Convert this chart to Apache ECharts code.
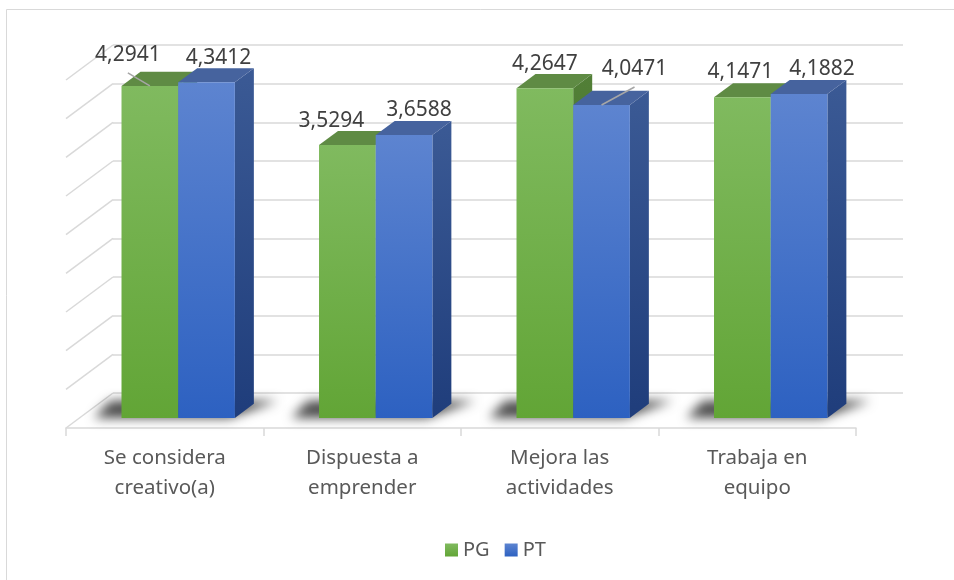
<!DOCTYPE html>
<html>
<head>
<meta charset="utf-8">
<script src="https://cdn.jsdelivr.net/npm/echarts@6/dist/echarts.min.js"></script>
<style>
html, body { margin: 0; padding: 0; background: #fff; }
#chart { width: 954px; height: 580px; }
</style>
</head>
<body>
<div id="chart"></div>
<script>
var categories = ['Se considera\ncreativo(a)', 'Dispuesta a\nemprender', 'Mejora las\nactividades', 'Trabaja en\nequipo'];
var pgValues = [4.2941, 3.5294, 4.2647, 4.1471];
var ptValues = [4.3412, 3.6588, 4.0471, 4.1882];
var seriesNames = ['PG', 'PT'];
var yMax = 4.5;
var yStep = 0.5;

// 3D box: front plane of the floor, and the vector from front to back wall
var front = { left: 66, top: 80, width: 790, height: 348 };
var depth = { x: 47, y: -35 };
var barFrac = 0.287;            // bar width / category width
var d0 = 0.286, d1 = 0.69;      // depth of bar front / back face

var font = 'Noto Sans';
var palette = [
  { front: ['#80ba5f', '#62a536'], top: '#5f8b44', side: ['#527f37', '#3f6a26'] },
  { front: ['#5d84d0', '#2d61c1'], top: '#46639e', side: ['#3b5a95', '#1f3d7b'] }
];
// label offsets from the front-top middle of each bar (x, baseline y), lead = leader line
var labelNudge = [
  [{ x: -22, y: -23, lead: true }, { x: -16, y: -17 }, { x: 0, y: -17 }, { x: -2, y: -18 }],
  [{ x: 12, y: -17 }, { x: 15, y: -18 }, { x: 33, y: -28, lead: true }, { x: 23, y: -18 }]
];

function fmt(v) { return v.toFixed(4).replace('.', ','); }
function grad(c) {
  return new echarts.graphic.LinearGradient(0, 0, 0, 1, [
    { offset: 0, color: c[0] }, { offset: 1, color: c[1] }
  ]);
}

var gridLevels = [];
for (var t = 0; t <= yMax + 1e-9; t += yStep) gridLevels.push([0, +t.toFixed(2)]);

function wallRender(params, api) {
  var p = api.coord([0, api.value(1)]);
  var catW = api.size([1, 0])[0];
  var x = p[0] - catW / 2;
  return {
    type: 'line',
    shape: { x1: x, y1: p[1], x2: x + depth.x, y2: p[1] + depth.y },
    style: { stroke: '#d9d9d9', lineWidth: 1.5 }
  };
}

function shadowRender(params, api) {
  var i = params.dataIndex;
  var base = api.coord([i, 0]);
  var catW = api.size([1, 0])[0];
  var w = catW * barFrac;
  var xl = base[0] - w, xr = base[0] + w;
  var yF = base[1] + depth.y * d0, yB = base[1] + depth.y * d1;
  var ox = 3000;
  return {
    type: 'polygon',
    shape: { points: [
      [xl - 14 - ox, yF], [xr + 8 - ox, yF],
      [xr + depth.x * d1 + 24 - ox, yB - 3], [xl + depth.x * d1 - 30 - ox, yB - 3]
    ] },
    style: { fill: '#000', shadowBlur: 11, shadowColor: 'rgba(0,0,0,0.7)', shadowOffsetX: ox }
  };
}

function barRender(s) {
  return function (params, api) {
    var i = params.dataIndex;
    var v = api.value(1);
    var base = api.coord([i, 0]);
    var top = api.coord([i, v]);
    var catW = api.size([1, 0])[0];
    var w = catW * barFrac;
    var x0 = base[0] - w + s * w, x1 = x0 + w;
    var fx = depth.x * d0, fy = depth.y * d0;
    var bx = depth.x * d1, by = depth.y * d1;
    var yT = top[1], yB = base[1];
    var c = palette[s];
    var n = labelNudge[s][i];
    var mx = (x0 + x1) / 2 + fx, my = yT + fy;
    var lx = mx + n.x, ly = my + n.y;
    var kids = [
      { type: 'polygon', shape: { points: [[x1 + fx, yT + fy], [x1 + bx, yT + by], [x1 + bx, yB + by], [x1 + fx, yB + fy]] },
        style: { fill: grad(c.side) } },
      { type: 'polygon', shape: { points: [[x0 + fx, yT + fy], [x1 + fx, yT + fy], [x1 + bx, yT + by], [x0 + bx, yT + by]] },
        style: { fill: c.top } },
      { type: 'rect', shape: { x: x0 + fx, y: yT + fy, width: w, height: yB - yT },
        style: { fill: grad(c.front) } }
    ];
    if (n.lead) {
      kids.push({ type: 'line', shape: { x1: mx, y1: my, x2: lx, y2: ly + 10 },
        style: { stroke: '#a6a6a6', lineWidth: 1.5 } });
    }
    kids.push({ type: 'text', x: lx, y: ly - 7.5,
      style: { text: fmt(v), fill: '#404040', font: '21px "' + font + '"', align: 'center', verticalAlign: 'middle' } });
    return { type: 'group', children: kids };
  };
}

var chart = echarts.init(document.getElementById('chart'), null, { renderer: 'canvas' });
var option = {
  animation: false,
  backgroundColor: '#fff',
  textStyle: { fontFamily: font },
  graphic: [{
    type: 'rect', silent: true, z: -10,
    shape: { x: 6.5, y: 9.5, width: 1000, height: 1000 },
    style: { fill: 'none', stroke: '#d9d9d9', lineWidth: 1 }
  }],
  legend: {
    data: seriesNames,
    left: 440, top: 535,
    icon: 'rect', itemWidth: 13, itemHeight: 13, itemGap: 15,
    textStyle: { fontSize: 20, color: '#595959', fontFamily: font }
  },
  grid: [
    { left: front.left + depth.x, top: front.top + depth.y, width: front.width, height: front.height },
    { left: front.left, top: front.top, width: front.width, height: front.height }
  ],
  xAxis: [
    { type: 'category', gridIndex: 0, data: categories, show: false },
    { type: 'category', gridIndex: 1, data: categories,
      axisLine: { lineStyle: { color: '#d9d9d9', width: 1.5 } },
      axisTick: { show: true, length: 8, lineStyle: { color: '#d9d9d9', width: 1.5 } },
      axisLabel: { interval: 0, fontSize: 20.5, lineHeight: 30, color: '#595959', margin: 15, fontFamily: font } }
  ],
  yAxis: [
    { type: 'value', gridIndex: 0, min: 0, max: yMax, interval: yStep,
      axisLine: { show: false }, axisTick: { show: false }, axisLabel: { show: false },
      splitLine: { lineStyle: { color: '#d9d9d9', width: 1.5 } } },
    { type: 'value', gridIndex: 1, min: 0, max: yMax, interval: yStep, show: false, splitLine: { show: false } }
  ],
  series: [
    { type: 'custom', name: 'wall', xAxisIndex: 1, yAxisIndex: 1, silent: true,
      renderItem: wallRender, data: gridLevels },
    { type: 'custom', name: 'shadow', xAxisIndex: 1, yAxisIndex: 1, silent: true,
      renderItem: shadowRender, data: categories.map(function (c, i) { return [i, 0]; }) },
    { type: 'custom', name: 'PG', xAxisIndex: 1, yAxisIndex: 1,
      itemStyle: { color: grad(palette[0].front) },
      renderItem: barRender(0), data: pgValues.map(function (v, i) { return [i, v]; }) },
    { type: 'custom', name: 'PT', xAxisIndex: 1, yAxisIndex: 1,
      itemStyle: { color: grad(palette[1].front) },
      renderItem: barRender(1), data: ptValues.map(function (v, i) { return [i, v]; }) }
  ]
};
chart.setOption(option);
</script>
</body>
</html>
